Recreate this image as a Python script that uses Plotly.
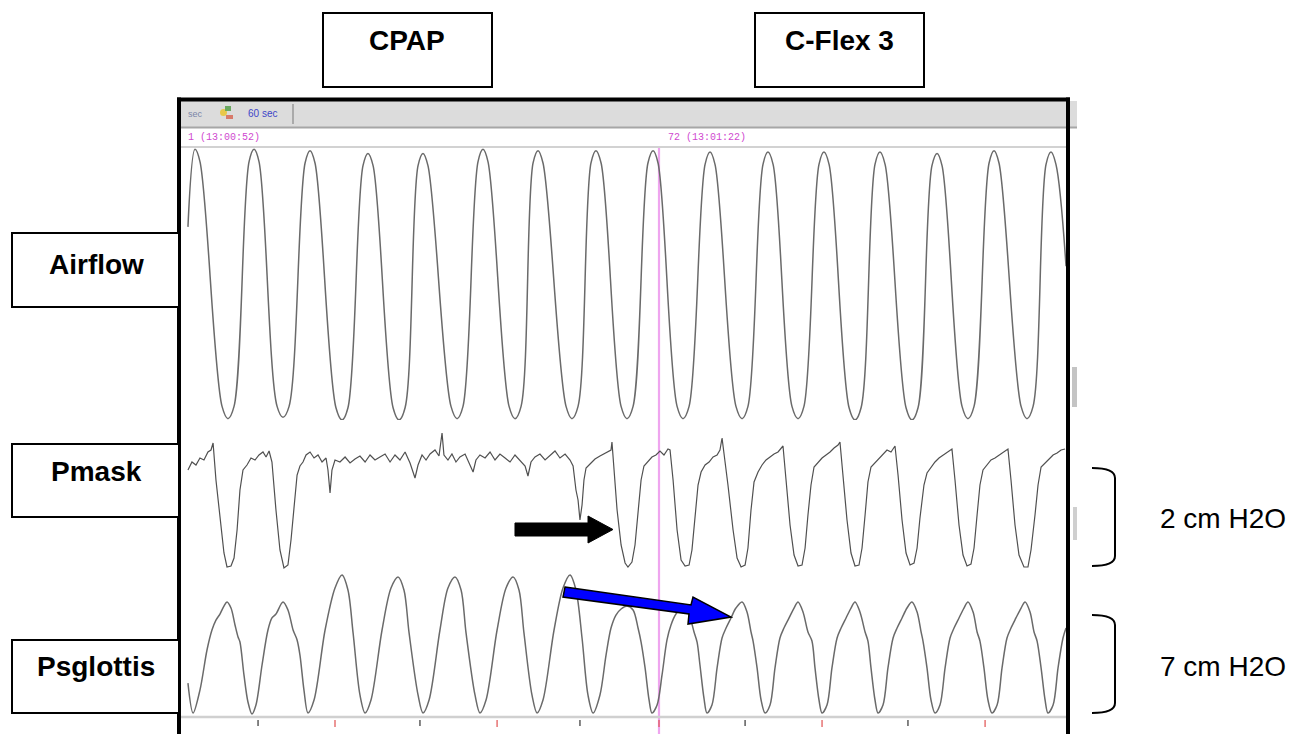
import plotly.graph_objects as go

W, H = 1306, 734

# ---------------- data (time in seconds from 13:00:52) ----------------
airflow_t = [0.56, 1.00, 1.31,
             2.69, 3.06, 3.44, 4.38, 4.69, 5.00,
             6.13, 6.50, 6.88, 7.88, 8.19, 8.50,
             9.81, 10.19, 10.56, 11.50, 11.81, 12.13,
             13.38, 13.75, 14.13, 14.94, 15.25, 15.56,
             17.00, 17.38, 17.75, 18.69, 19.00, 19.31,
             20.63, 21.00, 21.38, 22.13, 22.44, 22.75,
             24.19, 24.56, 24.94, 25.75, 26.06, 26.38,
             27.63, 28.00, 28.38, 29.31, 29.63, 29.94,
             31.13, 31.50, 31.88, 32.88, 33.19, 33.50,
             34.81, 35.19, 35.56, 36.50, 36.81, 37.13,
             38.31, 38.69, 39.06, 40.00, 40.31, 40.63,
             41.88, 42.25, 42.63, 43.50, 43.81, 44.13,
             45.44, 45.81, 46.19, 47.06, 47.38, 47.69,
             48.94, 49.31, 49.69, 50.63, 50.94, 51.25,
             52.63, 53.00, 53.38, 54.19, 54.50, 54.81,
             55.44]
airflow = [0.42, 0.99, 0.90,
           -0.90, -0.99, -0.90, 0.90, 0.99, 0.90,
           -0.90, -0.98, -0.90, 0.89, 0.98, 0.89,
           -0.91, -1.00, -0.91, 0.87, 0.96, 0.87,
           -0.91, -1.00, -0.91, 0.87, 0.96, 0.87,
           -0.90, -0.99, -0.90, 0.90, 0.99, 0.90,
           -0.90, -0.99, -0.90, 0.89, 0.98, 0.89,
           -0.90, -0.99, -0.90, 0.89, 0.98, 0.89,
           -0.90, -0.99, -0.90, 0.89, 0.98, 0.89,
           -0.90, -0.99, -0.90, 0.88, 0.97, 0.88,
           -0.90, -0.99, -0.90, 0.88, 0.97, 0.88,
           -0.90, -0.99, -0.90, 0.88, 0.97, 0.88,
           -0.91, -1.00, -0.91, 0.88, 0.97, 0.88,
           -0.91, -1.00, -0.91, 0.87, 0.96, 0.87,
           -0.90, -0.99, -0.90, 0.89, 0.98, 0.89,
           -0.90, -0.99, -0.90, 0.88, 0.97, 0.88,
           0.13]

pmask_t = [0.56, 0.81, 1.06, 1.31, 1.56, 1.81, 2.00, 2.13,
           2.31, 2.56, 2.81, 3.00, 3.25, 3.44, 3.63, 3.81, 4.00, 4.25, 4.50, 4.75, 5.00, 5.25, 5.44, 5.63,
           5.81, 6.06, 6.31, 6.56, 6.81, 7.00, 7.19, 7.38, 7.56, 7.75, 7.94, 8.19, 8.44, 8.69, 8.94, 9.19,
           9.31, 9.44, 9.56, 9.75, 10.06, 10.38, 10.69, 11.00, 11.31, 11.63, 11.94, 12.25, 12.56, 12.88,
           13.19, 13.50, 13.81, 14.13, 14.44, 14.75, 14.94, 15.19, 15.44, 15.69, 16.00, 16.25, 16.44,
           16.56, 16.81, 17.06, 17.31, 17.56, 17.88, 18.19, 18.38, 18.56, 18.81, 19.13, 19.44, 19.75,
           20.06, 20.38, 20.69, 21.00, 21.31, 21.63, 21.81, 22.00, 22.25, 22.56, 22.88, 23.19, 23.50,
           23.81, 24.13, 24.44, 24.63,
           24.81, 24.94, 25.06, 25.19, 25.31, 25.44, 25.69, 26.00, 26.31, 26.56, 26.81, 27.00, 27.06,
           27.19, 27.38, 27.63, 27.88, 28.06, 28.31, 28.50, 28.69, 28.88, 29.06, 29.31, 29.56, 29.81, 30.06, 30.31, 30.56, 30.69,
           30.88, 31.13, 31.38, 31.63, 31.88, 32.06, 32.25, 32.44, 32.63, 32.88, 33.13, 33.38, 33.63, 33.81, 33.94, 34.06,
           34.31, 34.63, 34.88, 35.13, 35.38, 35.56, 35.75, 35.94, 36.19, 36.44, 36.69, 36.94, 37.19, 37.44, 37.75,
           37.94, 38.19, 38.44, 38.69, 38.94, 39.13, 39.31, 39.50, 39.69, 39.94, 40.19, 40.44, 40.69, 40.94, 41.19, 41.31,
           41.50, 41.75, 42.00, 42.25, 42.50, 42.69, 42.88, 43.06, 43.25, 43.50, 43.75, 44.00, 44.25, 44.50, 44.75,
           44.94, 45.19, 45.44, 45.69, 45.94, 46.13, 46.31, 46.56, 46.75, 47.00, 47.25, 47.50, 47.75, 48.00, 48.31,
           48.50, 48.75, 49.00, 49.25, 49.50, 49.69, 49.88, 50.06, 50.25, 50.50, 50.75, 51.00, 51.25, 51.50, 51.81,
           52.00, 52.25, 52.50, 52.81, 53.06, 53.25, 53.50, 53.69, 53.88, 54.13, 54.38, 54.63, 54.88, 55.13, 55.38]
pmask = [-0.20, -0.04, -0.10, 0.04, 0.00, 0.16, 0.20, 0.34,
         -0.40, -1.20, -1.86, -2.14, -2.12, -1.96, -1.40, -0.60, -0.20, -0.10, 0.04, 0.00, 0.10, 0.16, 0.06, 0.18,
         -0.04, -1.00, -1.80, -2.16, -2.10, -1.60, -0.90, -0.30, -0.12, -0.04, 0.10, 0.16, 0.04, 0.10, -0.04, 0.04,
         -0.20, -0.66, -0.20, 0.00, -0.04, 0.06, -0.06, 0.02, 0.08, -0.04, 0.10, 0.00, 0.06, 0.12,
         -0.04, 0.10, 0.00, 0.16, -0.06, -0.36, -0.10, 0.10, 0.00, 0.12, 0.20, 0.08, 0.54,
         0.10, 0.00, 0.12, -0.04, 0.06, 0.12, -0.10, -0.24, 0.00, 0.10, 0.04, 0.16, 0.00,
         0.12, 0.04, -0.04, 0.10, 0.00, -0.12, -0.32, -0.04, 0.06, 0.12, 0.00, 0.10, 0.18,
         0.04, 0.12, 0.00, -0.12,
         -0.60, -0.80, -1.20, -0.90, -0.40, -0.16, -0.08, 0.02, 0.08, 0.12, 0.16, 0.20, 0.36,
         -0.20, -1.00, -1.70, -2.06, -2.14, -2.04, -1.70, -1.00, -0.40, -0.12, -0.04, 0.06, 0.10, 0.18, 0.10, 0.22, 0.20,
         -0.40, -1.40, -2.00, -2.12, -2.10, -1.80, -1.10, -0.50, -0.24, -0.10, -0.04, 0.06, 0.10, 0.20, 0.44, 0.16,
         -0.50, -1.40, -1.96, -2.14, -2.10, -1.76, -1.00, -0.44, -0.24, -0.10, 0.00, 0.06, 0.12, 0.16, 0.28,
         -0.40, -1.30, -1.90, -2.12, -2.10, -1.76, -1.10, -0.50, -0.14, -0.04, 0.04, 0.10, 0.16, 0.24, 0.30, 0.36,
         -0.30, -1.20, -1.86, -2.12, -2.10, -1.76, -1.10, -0.44, -0.14, -0.06, 0.04, 0.10, 0.20, 0.16, 0.28,
         -0.30, -1.20, -1.86, -2.10, -2.06, -1.76, -1.16, -0.50, -0.26, -0.14, -0.04, 0.04, 0.10, 0.16, 0.22,
         -0.40, -1.30, -1.90, -2.12, -2.08, -1.76, -1.10, -0.50, -0.20, -0.10, 0.00, 0.04, 0.10, 0.16, 0.22,
         -0.40, -1.30, -1.90, -2.14, -2.14, -1.80, -1.10, -0.50, -0.14, -0.06, 0.04, 0.10, 0.14, 0.20, 0.22]

psg_t = [0.56, 0.88, 1.31, 1.75, 2.06, 2.31, 2.56, 2.81, 3.00, 3.25, 3.50, 3.69, 3.81, 4.06,
         4.31, 4.56, 4.81, 5.19, 5.56, 5.81, 6.06, 6.50, 6.81, 7.13, 7.38, 7.56, 7.81, 8.06,
         8.44, 9.13, 9.75, 10.19, 10.56, 10.88, 11.31, 11.63,
         12.00, 12.69, 13.25, 13.69, 14.06, 14.38, 14.94, 15.25,
         15.63, 16.31, 16.81, 17.25, 17.63, 17.94, 18.50, 18.81,
         19.19, 19.88, 20.44, 20.88, 21.25, 21.56, 22.06, 22.38,
         22.75, 23.44, 24.00, 24.44, 24.81, 25.19, 25.56, 25.88,
         26.31, 26.69, 27.00, 27.31, 27.63, 28.00, 28.38, 28.69, 28.88, 29.13, 29.38, 29.56,
         29.88, 30.19, 30.50, 30.75, 31.06, 31.50, 31.88, 32.19, 32.38, 32.56, 32.81, 33.00,
         33.31, 33.63, 33.94, 34.19, 34.50, 34.81, 35.19, 35.50, 35.75, 35.88, 36.13, 36.38, 36.63,
         36.94, 37.25, 37.56, 37.81, 38.13, 38.44, 38.69, 39.00, 39.31, 39.56, 39.75, 40.00, 40.19,
         40.50, 40.81, 41.13, 41.38, 41.69, 42.00, 42.25, 42.56, 42.88, 43.06, 43.25, 43.50, 43.69,
         44.00, 44.31, 44.63, 44.88, 45.19, 45.50, 45.81, 46.13, 46.38, 46.50, 46.75, 47.00, 47.25,
         47.56, 47.88, 48.19, 48.44, 48.75, 49.06, 49.31, 49.63, 49.88, 50.06, 50.31, 50.56, 50.81,
         51.13, 51.44, 51.75, 52.00, 52.31, 52.63, 52.88, 53.19, 53.44, 53.63, 53.88, 54.13, 54.31,
         54.63, 54.94, 55.25, 55.44]
psglottis = [-5.79, -7.93, -6.29, -3.43, -2.00, -1.29, -0.86, -0.29, 0.00, -0.43, -1.64, -2.50, -2.86, -5.21,
             -7.14, -8.00, -7.36, -4.50, -2.00, -1.14, -0.86, 0.00, -0.57, -2.00, -2.71, -3.79, -6.29, -7.93,
             -7.00, -2.00, 1.00, 1.93, 0.86, -2.21, -6.64, -7.93,
             -7.00, -2.00, 1.00, 1.79, 0.86, -2.21, -6.64, -7.93,
             -7.00, -2.00, 1.00, 1.79, 0.86, -2.21, -6.64, -7.93,
             -7.00, -2.00, 1.00, 1.79, 0.86, -2.21, -6.64, -7.93,
             -7.00, -2.00, 1.00, 1.93, 0.86, -2.57, -6.64, -7.93,
             -6.64, -3.79, -1.86, -0.93, -0.50, -0.29, -0.57, -1.86, -2.86, -4.71, -7.00, -7.93,
             -7.36, -5.21, -2.71, -1.64, -0.86, -0.36, -0.93, -2.14, -2.86, -4.50, -6.86, -7.93,
             -7.36, -4.71, -2.57, -1.86, -1.14, -0.43, 0.00, -0.71, -2.14, -2.79, -4.71, -7.00, -7.93,
             -7.36, -4.71, -2.57, -1.86, -1.14, -0.43, 0.00, -0.71, -2.14, -2.79, -4.71, -7.00, -7.93,
             -7.36, -4.71, -2.57, -1.86, -1.14, -0.43, 0.00, -0.71, -2.14, -2.79, -4.71, -7.00, -7.93,
             -7.36, -4.71, -2.57, -1.86, -1.14, -0.43, 0.00, -0.71, -2.14, -2.79, -4.71, -7.00, -7.93,
             -7.36, -4.71, -2.57, -1.86, -1.14, -0.43, 0.00, -0.71, -2.14, -2.79, -4.71, -7.00, -7.93,
             -7.36, -4.71, -2.57, -1.86, -1.14, -0.43, 0.00, -0.71, -2.14, -2.79, -4.71, -7.00, -7.93,
             -7.36, -4.71, -2.57, -1.86]

mode_change_t = 30.0                 # CPAP -> C-Flex 3 marker (13:01:22)
ticks_black_t = [4.94, 15.06, 25.06, 35.38, 45.56]
ticks_red_t = [9.75, 19.88, 30.0, 40.19, 50.38]

mode_labels = ["CPAP", "C-Flex 3"]
channel_labels = ["Airflow", "Pmask", "Psglottis"]
scale_labels = ["2 cm H2O", "7 cm H2O"]
epoch_labels = ["1 (13:00:52)", "72 (13:01:22)"]


# ---------------- helpers (pixel -> paper) ----------------
def px(x):
    return x / W


def py(y):
    return 1 - y / H


def rect(x0, y0, x1, y1, fill="white", lc="black", lw=2, layer="above"):
    return dict(type="rect", xref="paper", yref="paper", x0=px(x0), x1=px(x1),
                y0=py(y1), y1=py(y0), fillcolor=fill,
                line=dict(color=lc, width=lw), layer=layer)


def hline(x0, x1, y, color, w):
    return dict(type="line", xref="paper", yref="paper", x0=px(x0), x1=px(x1),
                y0=py(y), y1=py(y), line=dict(color=color, width=w))


def vline(x, y0, y1, color, w):
    return dict(type="line", xref="paper", yref="paper", x0=px(x), x1=px(x),
                y0=py(y0), y1=py(y1), line=dict(color=color, width=w))


def path(points, fill, lc="black", lw=1.5):
    s = "M " + " L ".join(f"{px(a):.5f},{py(b):.5f}" for a, b in points) + " Z"
    return dict(type="path", xref="paper", yref="paper", path=s, fillcolor=fill,
                line=dict(color=lc, width=lw))


def bracket(x0, x1, ytop, ybot, r=10):
    s = (f"M {px(x0):.5f},{py(ytop):.5f} Q {px(x1):.5f},{py(ytop):.5f} {px(x1):.5f},{py(ytop + r):.5f} "
         f"L {px(x1):.5f},{py(ybot - r):.5f} Q {px(x1):.5f},{py(ybot):.5f} {px(x0):.5f},{py(ybot):.5f}")
    return dict(type="path", xref="paper", yref="paper", path=s,
                line=dict(color="black", width=2))


fig = go.Figure()
fig.add_trace(go.Scatter(x=airflow_t, y=airflow, mode="lines", yaxis="y",
                         line=dict(color="#6a6a6a", width=1.5, shape="spline", smoothing=1.0),
                         hoverinfo="skip"))
fig.add_trace(go.Scatter(x=pmask_t, y=pmask, mode="lines", yaxis="y2",
                         line=dict(color="#505050", width=1.2), hoverinfo="skip"))
fig.add_trace(go.Scatter(x=psg_t, y=psglottis, mode="lines", yaxis="y3",
                         line=dict(color="#6a6a6a", width=1.5, shape="spline", smoothing=0.9),
                         hoverinfo="skip"))

shapes = []
# toolbar and header rows
shapes.append(rect(181, 101, 1077, 127, fill="#dcdcdc", lc="#dcdcdc", lw=0))
shapes.append(hline(181, 1077, 127.5, "#a6a6a6", 2))
shapes.append(hline(181, 1066, 147, "#d2d2d2", 2))
shapes.append(vline(293, 104, 124, "#9a9a9a", 1.5))
# toolbar icon
shapes.append(dict(type="circle", xref="paper", yref="paper", x0=px(220), x1=px(227),
                   y0=py(116), y1=py(109), fillcolor="#e8c84a", line=dict(width=0)))
shapes.append(rect(225, 106, 231, 111, fill="#6aa860", lc="#6aa860", lw=0))
shapes.append(rect(226, 115, 233, 119, fill="#d87a6a", lc="#d87a6a", lw=0))
# scroll marks outside the frame
shapes.append(rect(1072, 367, 1077, 407, fill="#c4c4c4", lc="#c4c4c4", lw=0))
shapes.append(rect(1073, 507, 1077, 540, fill="#cfcfcf", lc="#cfcfcf", lw=0))
# bottom time-axis line
shapes.append(hline(181, 1066, 717, "#d0d0d0", 2.5))
# tick marks (data driven)
for t in ticks_black_t:
    shapes.append(dict(type="line", xref="x", yref="paper", x0=t, x1=t, y0=py(720), y1=py(726),
                       line=dict(color="#333333", width=1.2)))
for t in ticks_red_t:
    shapes.append(dict(type="line", xref="x", yref="paper", x0=t, x1=t, y0=py(720), y1=py(727),
                       line=dict(color="#e05050", width=1.2)))
# mode change marker
shapes.append(dict(type="line", xref="x", yref="paper", x0=mode_change_t, x1=mode_change_t,
                   y0=py(146), y1=0, line=dict(color="rgba(238,160,238,0.95)", width=2.2),
                   layer="below"))
# frame
shapes.append(hline(177, 1070, 99.5, "black", 4))
shapes.append(vline(179, 97.5, 740, "black", 4))
shapes.append(vline(1068, 97.5, 740, "black", 4))
# label boxes
shapes.append(rect(323, 13, 492, 87))
shapes.append(rect(755, 13, 924, 87))
shapes.append(rect(12, 233, 179, 307))
shapes.append(rect(12, 444, 179, 517))
shapes.append(rect(12, 640, 179, 713))
# arrows
shapes.append(path([(515, 523), (588, 523), (588, 516), (613, 529.5), (588, 543), (588, 536), (515, 536)],
                   fill="black", lw=1))
shapes.append(path([(565, 587), (691, 605), (693, 597), (731, 617), (688, 624), (689, 614), (563, 597)],
                   fill="#0000ff", lw=1.5))
# brackets
shapes.append(bracket(1092, 1115, 468, 566))
shapes.append(bracket(1092, 1115, 615, 713))

ann = []
FONT = "Arial, Liberation Sans, sans-serif"


def text(x, y, s, size, bold=False, color="black", xanchor="center", family=FONT):
    ann.append(dict(x=px(x), y=py(y), xref="paper", yref="paper", text=f"<b>{s}</b>" if bold else s,
                    showarrow=False, xanchor=xanchor, yanchor="middle",
                    font=dict(family=family, size=size, color=color)))


text(407, 41, mode_labels[0], 28, bold=True)
text(839, 41, mode_labels[1], 28, bold=True)
text(96, 264, channel_labels[0], 28, bold=True)
text(96, 471, channel_labels[1], 28, bold=True)
text(96, 666, channel_labels[2], 28, bold=True)
text(1158, 518, scale_labels[0], 28, xanchor="left")
text(1158, 666, scale_labels[1], 28, xanchor="left")
text(186, 137, epoch_labels[0], 10, color="#d048d0", xanchor="left", family="Liberation Mono, monospace")
text(666, 137, epoch_labels[1], 10, color="#d048d0", xanchor="left", family="Liberation Mono, monospace")
text(186, 114, "sec", 9, color="#7a86a8", xanchor="left")
text(246, 114, "60 sec", 10, color="#3c46c8", xanchor="left")

fig.update_layout(
    width=W, height=H, margin=dict(l=0, r=0, t=0, b=0),
    paper_bgcolor="white", plot_bgcolor="rgba(0,0,0,0)", showlegend=False,
    xaxis=dict(domain=[px(178), px(1068)], range=[-0.0625, 55.5625], visible=False, fixedrange=True),
    yaxis=dict(domain=[py(420), py(148)], range=[-1.0, 1.0], visible=False, fixedrange=True),
    yaxis2=dict(domain=[py(580), py(425)], range=[-2.4, 0.7], visible=False, anchor="x", fixedrange=True),
    yaxis3=dict(domain=[py(720), py(560)], range=[(602 - 720) / 14, (602 - 560) / 14], visible=False,
                anchor="x", fixedrange=True),
    shapes=shapes, annotations=ann,
)

fig.write_html("out.html", config={"displayModeBar": False})
